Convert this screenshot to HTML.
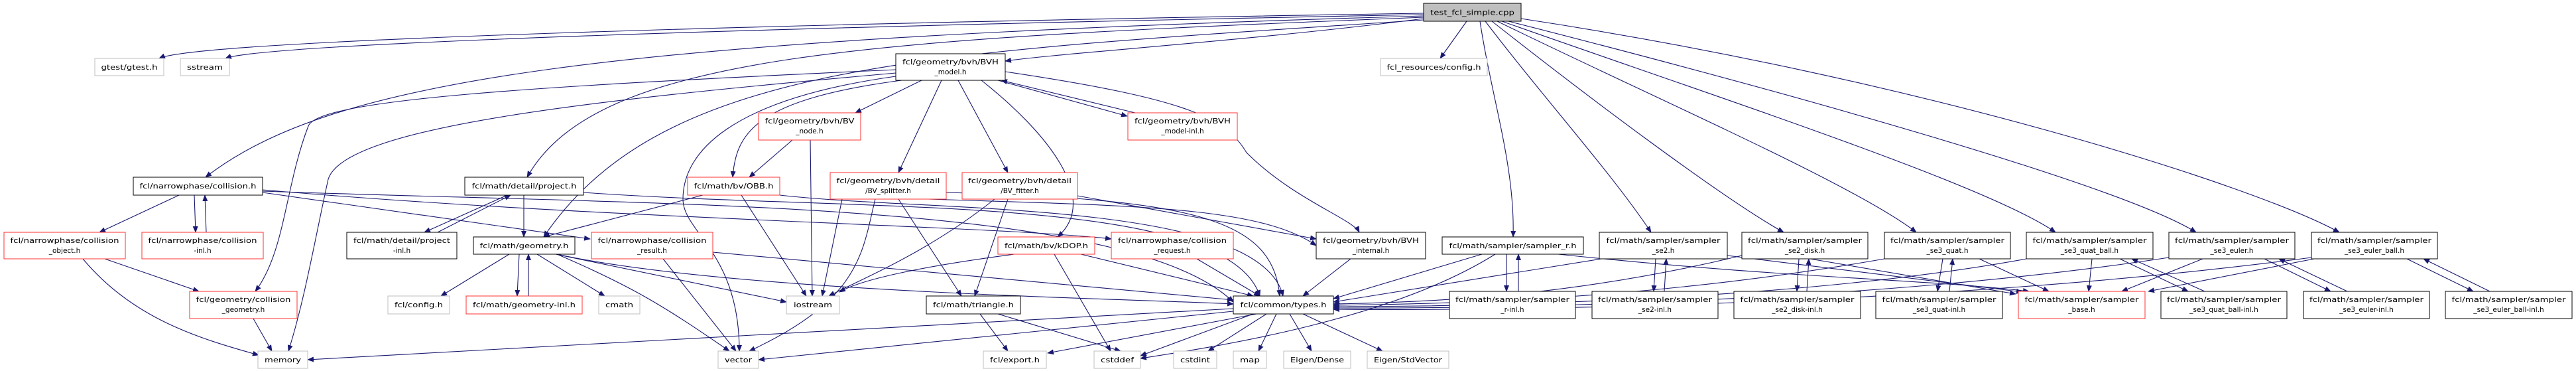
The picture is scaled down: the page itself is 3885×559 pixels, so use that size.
<!DOCTYPE html>
<html><head><meta charset="utf-8"><style>
html,body{margin:0;padding:0;background:#fff;}
svg{display:block;}
text{font-family:"DejaVu Sans","Liberation Sans",sans-serif;font-size:10.5px;fill:#000;}
.e{fill:none;stroke:#191970;stroke-width:1.1;marker-end:url(#a);}
.b{fill:#fff;stroke:#000;stroke-width:1;}
.r{fill:#fff;stroke:#ff3030;stroke-width:1;}
.g{fill:#fff;stroke:#bfbfbf;stroke-width:1;}
</style></head><body>
<svg width="3885" height="559" viewBox="0 0 3885 559" xmlns="http://www.w3.org/2000/svg">
<defs><marker id="a" markerWidth="10" markerHeight="8" refX="9" refY="4" orient="auto" markerUnits="userSpaceOnUse"><path d="M0,0 L10,4 L0,8 z" fill="#191970"/></marker></defs>
<g>
<!-- edges from test -->
<path class="e" d="M2147,20 C1200,35 300,60 240,88"/>
<path class="e" d="M2147,22 C1200,40 400,65 340,88"/>
<path class="e" d="M2147,28 C1900,60 1600,80 1516,92"/>
<path class="e" d="M2212,32 L2172,88"/>
<path class="e" d="M2147,24 C900,60 500,120 310,267"/>
<path class="e" d="M2147,26 C1300,60 900,80 795,267"/>
<path class="e" d="M2147,30 C1400,80 1000,90 820,357"/>
<path class="e" d="M2232,32 C2250,150 2285,250 2282,357"/>
<path class="e" d="M2240,32 C2330,150 2430,260 2490,350"/>
<path class="e" d="M2250,32 C2400,150 2600,300 2690,350"/>
<path class="e" d="M2258,32 C2500,150 2800,280 2890,350"/>
<path class="e" d="M2265,32 C2600,150 3000,280 3100,350"/>
<path class="e" d="M2275,32 C2700,140 3200,280 3312,350"/>
<path class="e" d="M2294,28 C2900,120 3400,280 3528,350"/>
<!-- BVH model -->
<path class="e" d="M1351,105 C800,130 480,150 465,190 C430,280 430,380 385,439"/>
<path class="e" d="M1351,110 C900,150 520,190 495,270 C475,360 460,450 435,529"/>
<path class="e" d="M1390,121 L1290,170"/>
<path class="e" d="M1360,121 C1140,150 1110,200 1105,267"/>
<path class="e" d="M1351,115 C1100,150 1030,230 1030,300 C1030,350 1115,380 1115,529"/>
<path class="e" d="M1420,121 L1355,260"/>
<path class="e" d="M1445,121 L1520,260"/>
<path class="e" d="M1480,121 C1580,200 1660,300 1595,357"/>
<path class="e" d="M1505,121 L1700,175"/>
<path class="e" d="M1712,170 L1510,121"/>
<path class="e" d="M1516,108 C1800,150 1850,180 1880,230 C1950,300 2040,330 2050,350"/>
<!-- BVnode / OBB -->
<path class="e" d="M1195,211 L1130,267"/>
<path class="e" d="M1222,211 L1225,446"/>
<path class="e" d="M1060,294 L820,357"/>
<path class="e" d="M1118,294 L1216,446"/>
<path class="e" d="M1176,294 C1400,320 1900,300 1935,446"/>
<!-- splitter / fitter / kdop -->
<path class="e" d="M1320,300 C1300,380 1300,450 1130,529"/>
<path class="e" d="M1270,300 L1240,446"/>
<path class="e" d="M1355,300 L1450,446"/>
<path class="e" d="M1427,290 C1800,300 1920,330 1930,446"/>
<path class="e" d="M1400,300 C1700,310 1900,310 1985,370"/>
<path class="e" d="M1520,300 L1470,446"/>
<path class="e" d="M1500,300 C1400,380 1300,420 1250,446"/>
<path class="e" d="M1625,295 L1985,360"/>
<path class="e" d="M1530,383 C1400,400 1300,420 1266,440"/>
<path class="e" d="M1590,383 L1675,529"/>
<path class="e" d="M1630,383 L1890,446"/>
<!-- collision -->
<path class="e" d="M270,294 L150,350"/>
<path class="e" d="M293,294 L295,350"/>
<path class="e" d="M311,350 L309,294"/>
<path class="e" d="M396,290 L890,360"/>
<path class="e" d="M396,286 C900,330 1500,340 1676,360"/>
<path class="e" d="M396,288 C1000,310 1700,300 1860,455"/>
<path class="e" d="M158,390 L300,439"/>
<path class="e" d="M125,390 C200,480 300,510 390,535"/>
<path class="e" d="M382,480 L410,529"/>
<!-- project / geometry -->
<path class="e" d="M765,294 L640,350"/>
<path class="e" d="M660,350 L770,294"/>
<path class="e" d="M790,294 L790,357"/>
<path class="e" d="M880,290 C1300,320 1850,290 1900,446"/>
<path class="e" d="M768,383 L665,446"/>
<path class="e" d="M783,383 L780,446"/>
<path class="e" d="M797,446 L797,383"/>
<path class="e" d="M810,383 L912,446"/>
<path class="e" d="M840,383 C950,430 1000,460 1100,529"/>
<path class="e" d="M838,383 L1186,455"/>
<path class="e" d="M840,383 C1100,440 1700,450 1860,458"/>
<path class="e" d="M1000,390 L1110,529"/>
<path class="e" d="M1075,380 L1860,452"/>
<path class="e" d="M1805,390 L1900,446"/>
<path class="e" d="M2037,390 L1965,446"/>
<path class="e" d="M1478,473 L1520,529"/>
<path class="e" d="M1505,473 L1690,529"/>
<!-- types -->
<path class="e" d="M1860,465 L464,542"/>
<path class="e" d="M1860,469 L1144,542"/>
<path class="e" d="M1895,473 L1580,532"/>
<path class="e" d="M1890,473 L1720,536"/>
<path class="e" d="M1910,473 L1822,529"/>
<path class="e" d="M1925,473 L1898,529"/>
<path class="e" d="M1945,473 L1978,529"/>
<path class="e" d="M1965,473 L2085,529"/>
<!-- samplers -->
<path class="e" d="M2272,383 L2272,439"/>
<path class="e" d="M2290,439 L2290,383"/>
<path class="e" d="M2235,383 L2011,450"/>
<path class="e" d="M2255,383 C2100,480 1850,520 1720,540"/>
<path class="e" d="M2350,383 C2700,420 2900,420 3060,439"/>
<path class="e" d="M2497,390 L2494,439"/>
<path class="e" d="M2510,439 L2513,390"/>
<path class="e" d="M2415,390 L2011,455"/>
<path class="e" d="M2605,385 L3050,440"/>
<path class="e" d="M2713,390 L2710,439"/>
<path class="e" d="M2725,439 L2728,390"/>
<path class="e" d="M2627,385 C2400,440 2200,455 2011,458"/>
<path class="e" d="M2730,390 L3040,443"/>
<path class="e" d="M2930,390 L2922,439"/>
<path class="e" d="M2940,439 L2945,390"/>
<path class="e" d="M2842,390 C2500,450 2200,458 2011,460"/>
<path class="e" d="M2985,390 L3090,439"/>
<path class="e" d="M3155,390 L3150,439"/>
<path class="e" d="M3197,390 L3300,439"/>
<path class="e" d="M3325,439 L3215,390"/>
<path class="e" d="M3056,390 C2700,455 2200,462 2011,462"/>
<path class="e" d="M3322,390 L3200,439"/>
<path class="e" d="M3415,390 L3515,439"/>
<path class="e" d="M3540,439 L3437,390"/>
<path class="e" d="M3271,388 C2800,460 2200,465 2011,464"/>
<path class="e" d="M3490,390 L3240,439"/>
<path class="e" d="M3630,390 L3730,439"/>
<path class="e" d="M3755,439 L3655,390"/>
<path class="e" d="M3486,388 C2900,465 2200,468 2011,466"/>
</g>
<g>
<!-- nodes -->
<rect x="2147" y="5" width="147" height="27" fill="#bfbfbf" stroke="#000"/><text x="2220.5" y="22.5" text-anchor="middle" textLength="127" lengthAdjust="spacingAndGlyphs">test_fcl_simple.cpp</text>
<rect class="g" x="143" y="88" width="104" height="26"/><text x="195" y="105" text-anchor="middle" textLength="85" lengthAdjust="spacingAndGlyphs">gtest/gtest.h</text>
<rect class="g" x="272" y="88" width="74" height="26"/><text x="309" y="105" text-anchor="middle" textLength="54" lengthAdjust="spacingAndGlyphs">sstream</text>
<rect class="b" x="1351" y="81" width="165" height="40"/><text x="1433.5" y="97" text-anchor="middle" textLength="145" lengthAdjust="spacingAndGlyphs">fcl/geometry/bvh/BVH</text><text x="1433.5" y="112" text-anchor="middle">_model.h</text>
<rect class="g" x="2082" y="88" width="161" height="26"/><text x="2162.5" y="105" text-anchor="middle" textLength="142" lengthAdjust="spacingAndGlyphs">fcl_resources/config.h</text>
<rect class="r" x="1144" y="170" width="154" height="41"/><text x="1221" y="186" text-anchor="middle" textLength="135" lengthAdjust="spacingAndGlyphs">fcl/geometry/bvh/BV</text><text x="1221" y="201" text-anchor="middle">_node.h</text>
<rect class="r" x="1701" y="170" width="165" height="41"/><text x="1783.5" y="186" text-anchor="middle" textLength="145" lengthAdjust="spacingAndGlyphs">fcl/geometry/bvh/BVH</text><text x="1783.5" y="201" text-anchor="middle">_model-inl.h</text>
<rect class="b" x="201" y="267" width="195" height="27"/><text x="298.5" y="284" text-anchor="middle" textLength="176" lengthAdjust="spacingAndGlyphs">fcl/narrowphase/collision.h</text>
<rect class="b" x="701" y="267" width="179" height="27"/><text x="790.5" y="284" text-anchor="middle" textLength="158" lengthAdjust="spacingAndGlyphs">fcl/math/detail/project.h</text>
<rect class="r" x="1037" y="267" width="139" height="27"/><text x="1106.5" y="284" text-anchor="middle" textLength="120" lengthAdjust="spacingAndGlyphs">fcl/math/bv/OBB.h</text>
<rect class="r" x="1252" y="260" width="175" height="40"/><text x="1339.5" y="276" text-anchor="middle" textLength="156" lengthAdjust="spacingAndGlyphs">fcl/geometry/bvh/detail</text><text x="1339.5" y="291" text-anchor="middle">/BV_splitter.h</text>
<rect class="r" x="1451" y="260" width="174" height="40"/><text x="1538" y="276" text-anchor="middle" textLength="156" lengthAdjust="spacingAndGlyphs">fcl/geometry/bvh/detail</text><text x="1538" y="291" text-anchor="middle">/BV_fitter.h</text>
<rect class="r" x="6" y="350" width="183" height="40"/><text x="97.5" y="366" text-anchor="middle" textLength="164" lengthAdjust="spacingAndGlyphs">fcl/narrowphase/collision</text><text x="97.5" y="381" text-anchor="middle">_object.h</text>
<rect class="r" x="214" y="350" width="183" height="40"/><text x="305.5" y="366" text-anchor="middle" textLength="164" lengthAdjust="spacingAndGlyphs">fcl/narrowphase/collision</text><text x="305.5" y="381" text-anchor="middle">-inl.h</text>
<rect class="b" x="523" y="350" width="166" height="40"/><text x="606" y="366" text-anchor="middle" textLength="146" lengthAdjust="spacingAndGlyphs">fcl/math/detail/project</text><text x="606" y="381" text-anchor="middle">-inl.h</text>
<rect class="b" x="714" y="357" width="153" height="26"/><text x="790.5" y="374" text-anchor="middle" textLength="134" lengthAdjust="spacingAndGlyphs">fcl/math/geometry.h</text>
<rect class="r" x="892" y="350" width="183" height="40"/><text x="983.5" y="366" text-anchor="middle" textLength="164" lengthAdjust="spacingAndGlyphs">fcl/narrowphase/collision</text><text x="983.5" y="381" text-anchor="middle">_result.h</text>
<rect class="r" x="1505" y="357" width="146" height="26"/><text x="1578" y="374" text-anchor="middle" textLength="126" lengthAdjust="spacingAndGlyphs">fcl/math/bv/kDOP.h</text>
<rect class="r" x="1676" y="350" width="184" height="40"/><text x="1768" y="366" text-anchor="middle" textLength="164" lengthAdjust="spacingAndGlyphs">fcl/narrowphase/collision</text><text x="1768" y="381" text-anchor="middle">_request.h</text>
<rect class="b" x="1985" y="350" width="165" height="40"/><text x="2067.5" y="366" text-anchor="middle" textLength="145" lengthAdjust="spacingAndGlyphs">fcl/geometry/bvh/BVH</text><text x="2067.5" y="381" text-anchor="middle">_internal.h</text>
<rect class="b" x="2175" y="357" width="213" height="26"/><text x="2281.5" y="374" text-anchor="middle" textLength="192" lengthAdjust="spacingAndGlyphs">fcl/math/sampler/sampler_r.h</text>
<rect class="b" x="2412" y="350" width="193" height="40"/><text x="2508.5" y="366" text-anchor="middle" textLength="172" lengthAdjust="spacingAndGlyphs">fcl/math/sampler/sampler</text><text x="2508.5" y="381" text-anchor="middle">_se2.h</text>
<rect class="b" x="2627" y="350" width="190" height="40"/><text x="2722" y="366" text-anchor="middle" textLength="172" lengthAdjust="spacingAndGlyphs">fcl/math/sampler/sampler</text><text x="2722" y="381" text-anchor="middle">_se2_disk.h</text>
<rect class="b" x="2842" y="350" width="190" height="40"/><text x="2937" y="366" text-anchor="middle" textLength="172" lengthAdjust="spacingAndGlyphs">fcl/math/sampler/sampler</text><text x="2937" y="381" text-anchor="middle">_se3_quat.h</text>
<rect class="b" x="3056" y="350" width="191" height="40"/><text x="3151.5" y="366" text-anchor="middle" textLength="172" lengthAdjust="spacingAndGlyphs">fcl/math/sampler/sampler</text><text x="3151.5" y="381" text-anchor="middle">_se3_quat_ball.h</text>
<rect class="b" x="3271" y="350" width="190" height="40"/><text x="3366" y="366" text-anchor="middle" textLength="172" lengthAdjust="spacingAndGlyphs">fcl/math/sampler/sampler</text><text x="3366" y="381" text-anchor="middle">_se3_euler.h</text>
<rect class="b" x="3486" y="350" width="190" height="40"/><text x="3581" y="366" text-anchor="middle" textLength="172" lengthAdjust="spacingAndGlyphs">fcl/math/sampler/sampler</text><text x="3581" y="381" text-anchor="middle">_se3_euler_ball.h</text>
<rect class="r" x="286" y="439" width="162" height="41"/><text x="367" y="455" text-anchor="middle" textLength="143" lengthAdjust="spacingAndGlyphs">fcl/geometry/collision</text><text x="367" y="470" text-anchor="middle">_geometry.h</text>
<rect class="g" x="585" y="446" width="93" height="27"/><text x="631.5" y="463" text-anchor="middle" textLength="73" lengthAdjust="spacingAndGlyphs">fcl/config.h</text>
<rect class="r" x="703" y="446" width="175" height="27"/><text x="790.5" y="463" text-anchor="middle" textLength="155" lengthAdjust="spacingAndGlyphs">fcl/math/geometry-inl.h</text>
<rect class="g" x="903" y="446" width="62" height="27"/><text x="934" y="463" text-anchor="middle" textLength="42" lengthAdjust="spacingAndGlyphs">cmath</text>
<rect class="g" x="1186" y="446" width="80" height="27"/><text x="1226" y="463" text-anchor="middle" textLength="58" lengthAdjust="spacingAndGlyphs">iostream</text>
<rect class="b" x="1397" y="446" width="142" height="27"/><text x="1468" y="463" text-anchor="middle" textLength="122" lengthAdjust="spacingAndGlyphs">fcl/math/triangle.h</text>
<rect class="b" x="1860" y="446" width="151" height="27"/><text x="1935.5" y="463" text-anchor="middle" textLength="130" lengthAdjust="spacingAndGlyphs">fcl/common/types.h</text>
<rect class="b" x="2186" y="439" width="190" height="41"/><text x="2281" y="455" text-anchor="middle" textLength="172" lengthAdjust="spacingAndGlyphs">fcl/math/sampler/sampler</text><text x="2281" y="470" text-anchor="middle">_r-inl.h</text>
<rect class="b" x="2401" y="439" width="190" height="41"/><text x="2496" y="455" text-anchor="middle" textLength="172" lengthAdjust="spacingAndGlyphs">fcl/math/sampler/sampler</text><text x="2496" y="470" text-anchor="middle">_se2-inl.h</text>
<rect class="b" x="2615" y="439" width="191" height="41"/><text x="2710.5" y="455" text-anchor="middle" textLength="172" lengthAdjust="spacingAndGlyphs">fcl/math/sampler/sampler</text><text x="2710.5" y="470" text-anchor="middle">_se2_disk-inl.h</text>
<rect class="b" x="2829" y="439" width="191" height="41"/><text x="2924.5" y="455" text-anchor="middle" textLength="172" lengthAdjust="spacingAndGlyphs">fcl/math/sampler/sampler</text><text x="2924.5" y="470" text-anchor="middle">_se3_quat-inl.h</text>
<rect class="r" x="3044" y="439" width="191" height="41"/><text x="3139.5" y="455" text-anchor="middle" textLength="172" lengthAdjust="spacingAndGlyphs">fcl/math/sampler/sampler</text><text x="3139.5" y="470" text-anchor="middle">_base.h</text>
<rect class="b" x="3259" y="439" width="190" height="41"/><text x="3354" y="455" text-anchor="middle" textLength="172" lengthAdjust="spacingAndGlyphs">fcl/math/sampler/sampler</text><text x="3354" y="470" text-anchor="middle">_se3_quat_ball-inl.h</text>
<rect class="b" x="3474" y="439" width="190" height="41"/><text x="3569" y="455" text-anchor="middle" textLength="172" lengthAdjust="spacingAndGlyphs">fcl/math/sampler/sampler</text><text x="3569" y="470" text-anchor="middle">_se3_euler-inl.h</text>
<rect class="b" x="3688" y="439" width="191" height="41"/><text x="3783.5" y="455" text-anchor="middle" textLength="172" lengthAdjust="spacingAndGlyphs">fcl/math/sampler/sampler</text><text x="3783.5" y="470" text-anchor="middle">_se3_euler_ball-inl.h</text>
<rect class="g" x="389" y="529" width="75" height="26"/><text x="426.5" y="546" text-anchor="middle" textLength="55" lengthAdjust="spacingAndGlyphs">memory</text>
<rect class="g" x="1083" y="529" width="61" height="26"/><text x="1113.5" y="546" text-anchor="middle" textLength="41" lengthAdjust="spacingAndGlyphs">vector</text>
<rect class="g" x="1483" y="529" width="95" height="26"/><text x="1530.5" y="546" text-anchor="middle" textLength="75" lengthAdjust="spacingAndGlyphs">fcl/export.h</text>
<rect class="g" x="1650" y="529" width="70" height="26"/><text x="1685" y="546" text-anchor="middle" textLength="50" lengthAdjust="spacingAndGlyphs">cstddef</text>
<rect class="g" x="1770" y="529" width="65" height="26"/><text x="1802.5" y="546" text-anchor="middle" textLength="45" lengthAdjust="spacingAndGlyphs">cstdint</text>
<rect class="g" x="1860" y="529" width="50" height="26"/><text x="1885" y="546" text-anchor="middle" textLength="30" lengthAdjust="spacingAndGlyphs">map</text>
<rect class="g" x="1936" y="529" width="101" height="26"/><text x="1986.5" y="546" text-anchor="middle" textLength="81" lengthAdjust="spacingAndGlyphs">Eigen/Dense</text>
<rect class="g" x="2062" y="529" width="123" height="26"/><text x="2123.5" y="546" text-anchor="middle" textLength="103" lengthAdjust="spacingAndGlyphs">Eigen/StdVector</text>
</g>
</svg>
</body></html>
